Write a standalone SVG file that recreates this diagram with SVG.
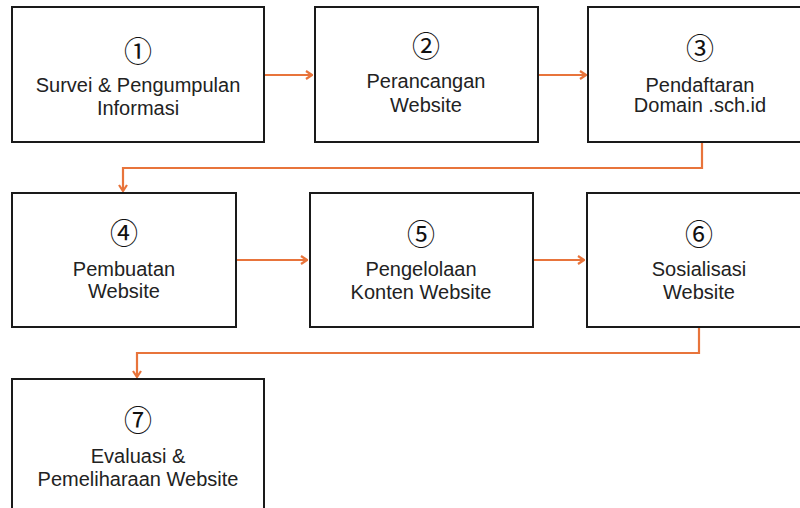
<svg xmlns="http://www.w3.org/2000/svg" width="800" height="508" viewBox="0 0 800 508">
<defs>
<style>
.box{fill:#fff;stroke:#1a1a1a;stroke-width:2}
.t{font-family:"Liberation Sans",Arial,sans-serif;font-size:20px;fill:#222;text-anchor:middle}
.n{font-family:"Noto Sans CJK JP","Noto Sans CJK SC",sans-serif;font-size:28px;fill:#111;text-anchor:middle}
.c{fill:none;stroke:#E8743B;stroke-width:2.2}
</style>
<marker id="ah" viewBox="0 0 10 10" refX="9" refY="5" markerWidth="10" markerHeight="10" markerUnits="userSpaceOnUse" orient="auto">
<path d="M3,1 L9,5 L3,9" fill="none" stroke="#E8743B" stroke-width="2.2"/>
</marker>
</defs>
<rect width="800" height="508" fill="#fff"/>
<g id="connectors">
<path class="c" d="M264,75 H312" marker-end="url(#ah)"/>
<path class="c" d="M538,75 H586" marker-end="url(#ah)"/>
<path class="c" d="M702,142 V168 H123 V191" marker-end="url(#ah)"/>
<path class="c" d="M236,260 H307" marker-end="url(#ah)"/>
<path class="c" d="M533,260 H584" marker-end="url(#ah)"/>
<path class="c" d="M699,327 V353 H137 V377" marker-end="url(#ah)"/>
</g>
<g id="node1">
<rect class="box" x="12" y="7" width="252" height="135"/>
<text class="n" x="138" y="62">①</text>
<text class="t" x="138" y="92">Survei &amp; Pengumpulan</text>
<text class="t" x="138" y="115">Informasi</text>
</g>
<g id="node2">
<rect class="box" x="315" y="7" width="223" height="135"/>
<text class="n" x="426" y="57">②</text>
<text class="t" x="426" y="88">Perancangan</text>
<text class="t" x="426" y="112">Website</text>
</g>
<g id="node3">
<rect class="box" x="588" y="7" width="220" height="135"/>
<text class="n" x="700" y="59">③</text>
<text class="t" x="700" y="92">Pendaftaran</text>
<text class="t" x="700" y="112">Domain .sch.id</text>
</g>
<g id="node4">
<rect class="box" x="12" y="193" width="224" height="134"/>
<text class="n" x="124" y="244">④</text>
<text class="t" x="124" y="276">Pembuatan</text>
<text class="t" x="124" y="298">Website</text>
</g>
<g id="node5">
<rect class="box" x="310" y="193" width="223" height="134"/>
<text class="n" x="421" y="245">⑤</text>
<text class="t" x="421" y="276">Pengelolaan</text>
<text class="t" x="421" y="299">Konten Website</text>
</g>
<g id="node6">
<rect class="box" x="587" y="193" width="220" height="134"/>
<text class="n" x="699" y="245">⑥</text>
<text class="t" x="699" y="276">Sosialisasi</text>
<text class="t" x="699" y="299">Website</text>
</g>
<g id="node7">
<rect class="box" x="12" y="379" width="252" height="140"/>
<text class="n" x="138" y="431">⑦</text>
<text class="t" x="138" y="463">Evaluasi &amp;</text>
<text class="t" x="138" y="486">Pemeliharaan Website</text>
</g>
</svg>
